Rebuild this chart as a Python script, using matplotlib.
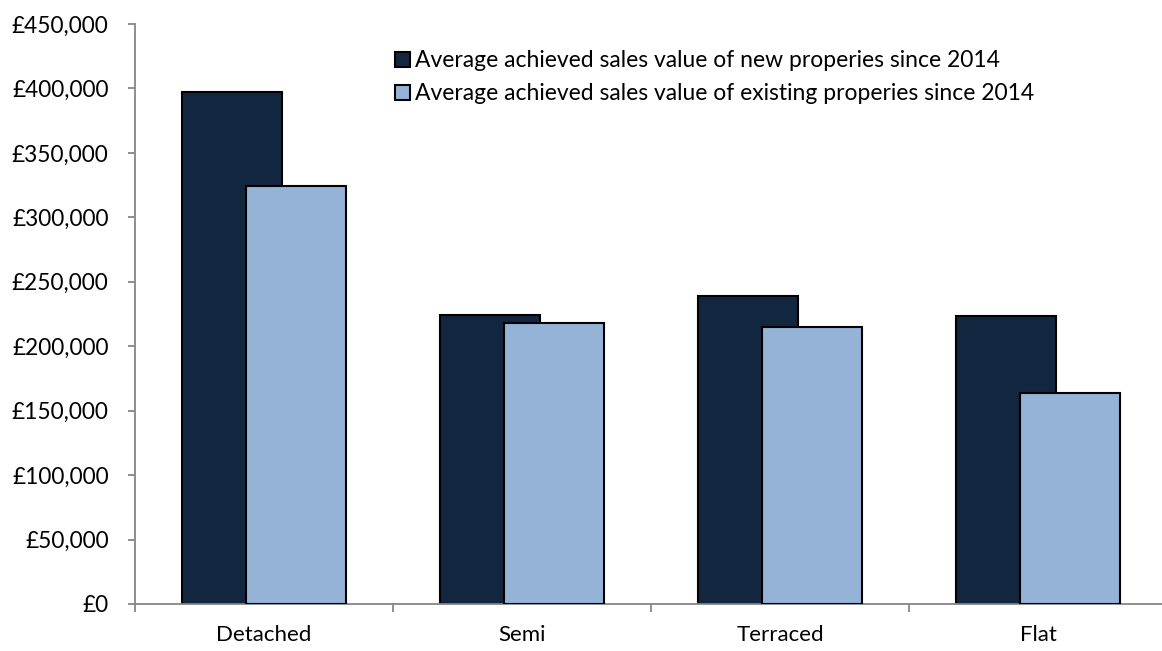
import matplotlib.pyplot as plt
from matplotlib.ticker import FuncFormatter
import numpy as np

# Data
categories = ['Detached', 'Semi', 'Terraced', 'Flat']
new_values = [397500, 224000, 239000, 223400]
existing_values = [324500, 217800, 215000, 164000]
label_new = 'Average achieved sales value of new properies since 2014'
label_existing = 'Average achieved sales value of existing properies since 2014'

plt.rcParams['font.family'] = ['Lato', 'DejaVu Sans']

fig = plt.figure(figsize=(11.62, 6.51), dpi=100)
ax = fig.add_axes([135 / 1162, 47 / 651, 1032 / 1162, 580 / 651])

x = np.arange(len(categories))
width = 0.384
offset = 0.124
ax.bar(x - offset, new_values, width, color='#12263F', edgecolor='black',
       linewidth=1.5, label=label_new, zorder=2)
ax.bar(x + offset, existing_values, width, color='#95B3D7', edgecolor='black',
       linewidth=1.5, label=label_existing, zorder=3)

ax.set_xlim(-0.5, len(categories) - 0.5)
ax.set_ylim(0, 450000)
ax.set_yticks(np.arange(0, 450001, 50000))
ax.yaxis.set_major_formatter(FuncFormatter(lambda v, p: '£{:,.0f}'.format(v)))
ax.set_xticks(x)
ax.set_xticklabels(categories)
ax.set_xticks(np.arange(-0.5, len(categories), 1.0), minor=True)

for side in ['top', 'right']:
    ax.spines[side].set_visible(False)
for side in ['left', 'bottom']:
    ax.spines[side].set_color('#868686')
    ax.spines[side].set_linewidth(1.3)

ax.tick_params(axis='y', length=5, width=1.3, color='#868686', labelsize=16.3, pad=14)
ax.tick_params(axis='x', which='major', length=0, labelsize=16, pad=15)
ax.tick_params(axis='x', which='minor', length=6, width=1.3, color='#868686')

fig.legend(loc='upper left', bbox_to_anchor=(384 / 1162, 1 - 39 / 651),
           frameon=False, fontsize=16.5, handlelength=0.65, handleheight=0.65,
           handletextpad=0.2, labelspacing=0.52, borderpad=0)

fig.savefig('out.png', dpi=100)
